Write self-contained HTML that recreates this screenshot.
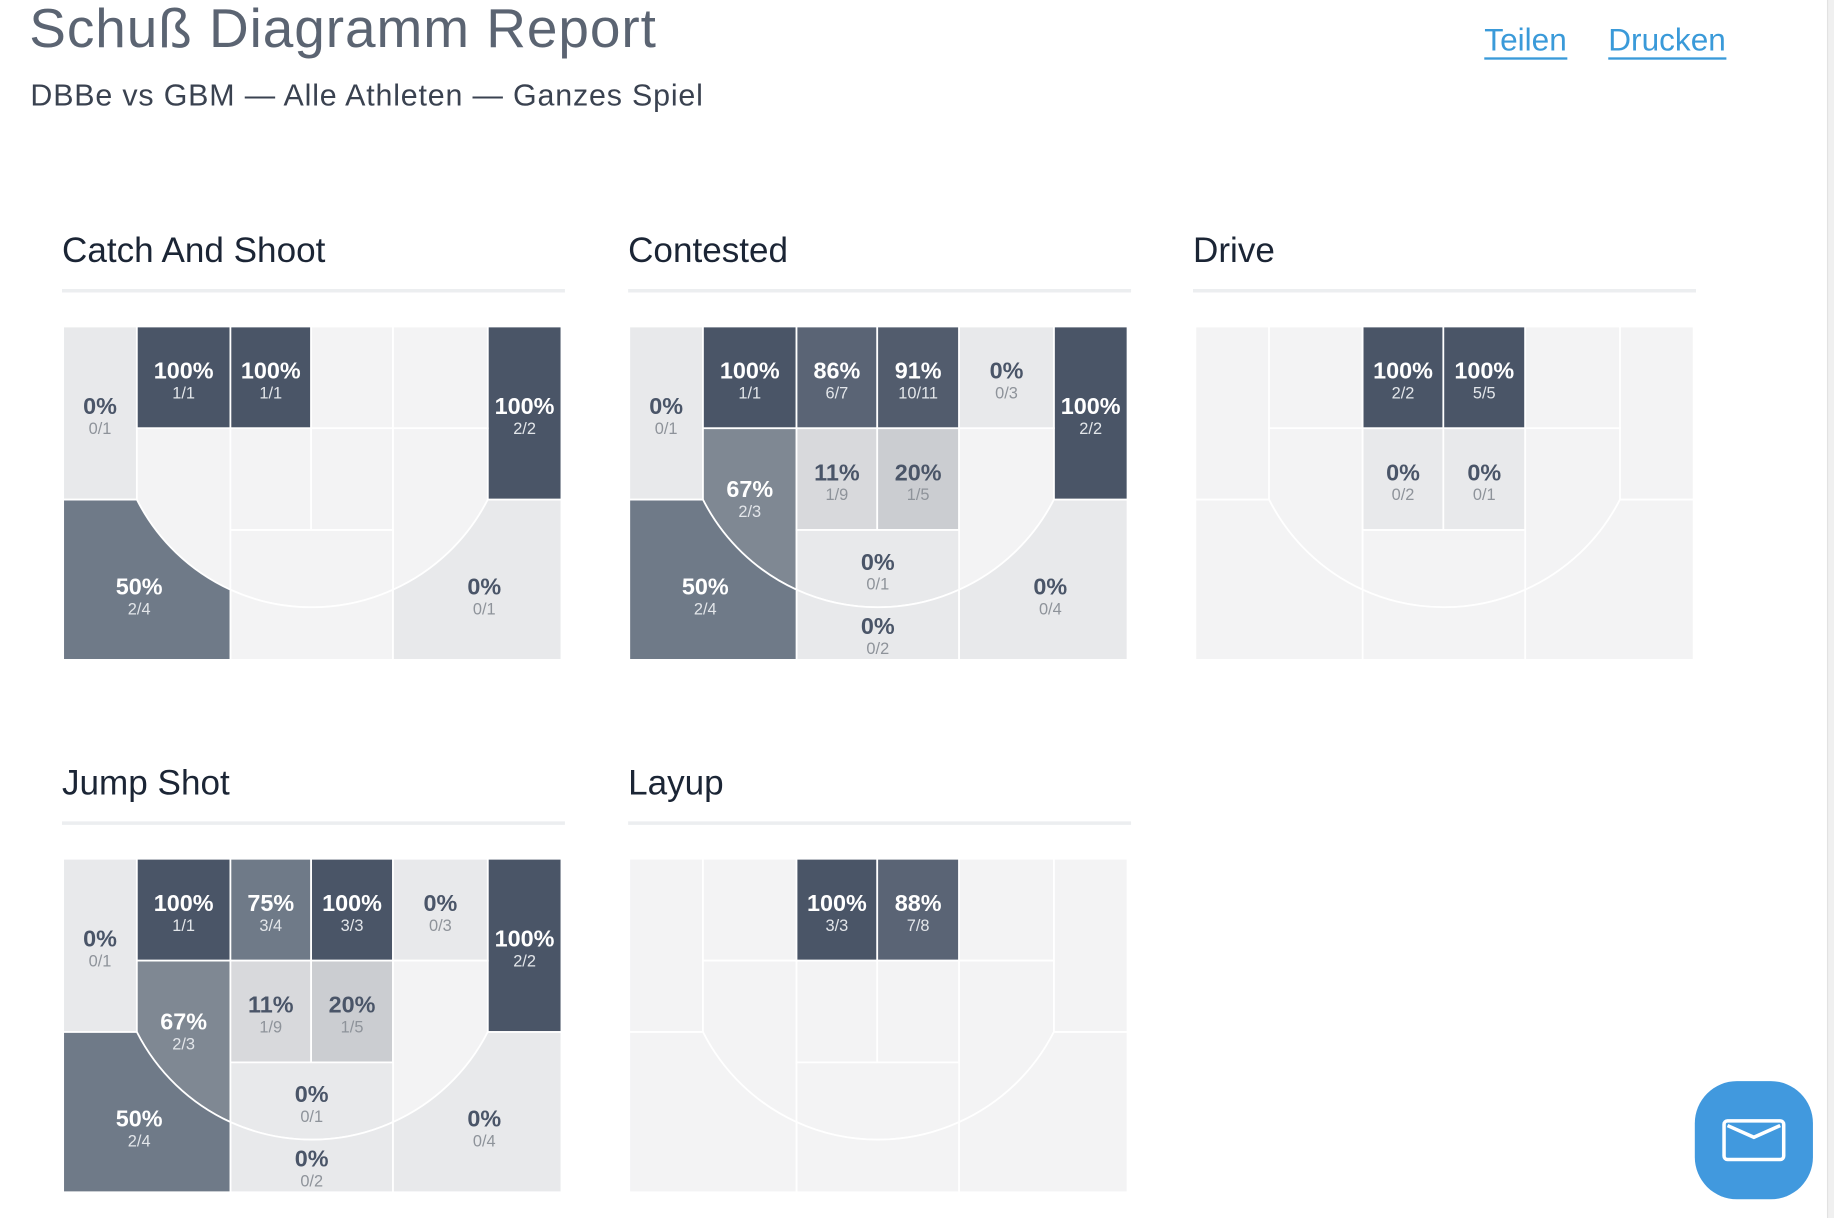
<!DOCTYPE html>
<html><head><meta charset="utf-8">
<style>
html,body{margin:0;padding:0;background:#fff;overflow:hidden;width:1834px;height:1218px}
#w{position:absolute;left:0;top:0;width:1568px;height:1041px;transform:scale(1.16964,1.17003);transform-origin:0 0;font-family:"Liberation Sans",Arial,sans-serif}
.h1{position:absolute;left:25px;top:-4px;font-size:47px;color:#5b6472;font-weight:300;letter-spacing:0.8px}
.sub{position:absolute;left:26px;top:66px;font-size:26px;color:#3a4250;letter-spacing:0.7px}
.lk{position:absolute;top:19px;font-size:27px;color:#3a9ad9;border-bottom:2px solid #3a9ad9;line-height:30px}
.t{position:absolute;font-size:30px;color:#1b2535}
.ul{position:absolute;height:3px;width:430px;background:#eceef0}
svg.c{position:absolute;overflow:visible}
.e{fill:#f3f3f4}.l{fill:#e8e9eb}.d{fill:#4a5567}.m{fill:#6f7a88}.m2{fill:#7f8893}.d2{fill:#5a6475}.d3{fill:#525c6d}.g1{fill:#d8d9dc}.g2{fill:#cbcdd1}
use{stroke:#fff;stroke-width:1.5}
text{font-family:"Liberation Sans",Arial,sans-serif;text-anchor:middle}
.p{font-size:20px;font-weight:bold;fill:#4a5568}.f{font-size:14px;fill:#8e939a}
.pw{font-size:20px;font-weight:bold;fill:#fff}.fw{font-size:14px;fill:#e3e6ea}
.mail{position:absolute;left:1449px;top:924px;width:101px;height:101px;border-radius:36px;background:#4199de}
.sb{position:absolute;left:1562px;top:0;width:6px;height:1041px;background:#f0f0f0;border-left:1px solid #e2e2e2}
</style></head><body><div id="w">
<svg width="0" height="0" style="position:absolute"><defs>
<path id="zA" d="M0 0H63V148H0Z"/>
<path id="zB" d="M363 0H426V148H363Z"/>
<path id="zT1" d="M63 0H143V87H63Z"/>
<path id="zT2" d="M143 0H212V87H143Z"/>
<path id="zT3" d="M212 0H282V87H212Z"/>
<path id="zT4" d="M282 0H363V87H282Z"/>
<path id="zM1" d="M63 87H143V225A168.3 168.3 0 0 1 63 148Z"/>
<path id="zM4" d="M282 87H363V148A168.3 168.3 0 0 1 282 225Z"/>
<path id="zM2" d="M143 87H212V174H143Z"/>
<path id="zM3" d="M212 87H282V174H212Z"/>
<path id="zC1" d="M143 174H282V225A168.3 168.3 0 0 1 143 225Z"/>
<path id="zC2" d="M143 285V225A168.3 168.3 0 0 0 282 225V285Z"/>
<path id="zL" d="M0 148H63A168.3 168.3 0 0 0 143 225V285H0Z"/>
<path id="zR" d="M426 148H363A168.3 168.3 0 0 1 282 225V285H426Z"/>
</defs></svg>

<div class="h1">Schuß Diagramm Report</div>
<div class="sub">DBBe vs GBM — Alle Athleten — Ganzes Spiel</div>
<div class="lk" style="left:1269px">Teilen</div>
<div class="lk" style="left:1375px">Drucken</div>

<div class="t" style="left:53px;top:198px">Catch And Shoot</div><div class="ul" style="left:53px;top:247px"></div>
<div class="t" style="left:537px;top:198px">Contested</div><div class="ul" style="left:537px;top:247px"></div>
<div class="t" style="left:1020px;top:198px">Drive</div><div class="ul" style="left:1020px;top:247px"></div>
<div class="t" style="left:53px;top:653px">Jump Shot</div><div class="ul" style="left:53px;top:702px"></div>
<div class="t" style="left:537px;top:653px">Layup</div><div class="ul" style="left:537px;top:702px"></div>

<!-- Catch And Shoot -->
<svg class="c" style="left:54px;top:279px" width="426" height="285">
<use href="#zA" class="l"/><use href="#zB" class="d"/><use href="#zT1" class="d"/><use href="#zT2" class="d"/><use href="#zT3" class="e"/><use href="#zT4" class="e"/>
<use href="#zM1" class="e"/><use href="#zM2" class="e"/><use href="#zM3" class="e"/><use href="#zM4" class="e"/><use href="#zC1" class="e"/><use href="#zC2" class="e"/><use href="#zL" class="m"/><use href="#zR" class="l"/>
<text x="31.5" y="75" class="p">0%</text><text x="31.5" y="92" class="f">0/1</text>
<text x="103" y="44.5" class="pw">100%</text><text x="103" y="61.5" class="fw">1/1</text>
<text x="177.5" y="44.5" class="pw">100%</text><text x="177.5" y="61.5" class="fw">1/1</text>
<text x="394.5" y="75" class="pw">100%</text><text x="394.5" y="92" class="fw">2/2</text>
<text x="65" y="229" class="pw">50%</text><text x="65" y="246" class="fw">2/4</text>
<text x="360" y="229" class="p">0%</text><text x="360" y="246" class="f">0/1</text>
</svg>

<!-- Contested -->
<svg class="c" style="left:538px;top:279px" width="426" height="285">
<use href="#zA" class="l"/><use href="#zB" class="d"/><use href="#zT1" class="d"/><use href="#zT2" class="d2"/><use href="#zT3" class="d3"/><use href="#zT4" class="l"/>
<use href="#zM1" class="m2"/><use href="#zM2" class="g1"/><use href="#zM3" class="g2"/><use href="#zM4" class="e"/><use href="#zC1" class="l"/><use href="#zC2" class="l"/><use href="#zL" class="m"/><use href="#zR" class="l"/>
<text x="31.5" y="75" class="p">0%</text><text x="31.5" y="92" class="f">0/1</text>
<text x="103" y="44.5" class="pw">100%</text><text x="103" y="61.5" class="fw">1/1</text>
<text x="177.5" y="44.5" class="pw">86%</text><text x="177.5" y="61.5" class="fw">6/7</text>
<text x="247" y="44.5" class="pw">91%</text><text x="247" y="61.5" class="fw">10/11</text>
<text x="322.5" y="44.5" class="p">0%</text><text x="322.5" y="61.5" class="f">0/3</text>
<text x="394.5" y="75" class="pw">100%</text><text x="394.5" y="92" class="fw">2/2</text>
<text x="103" y="146" class="pw">67%</text><text x="103" y="163" class="fw">2/3</text>
<text x="177.5" y="131.5" class="p">11%</text><text x="177.5" y="148.5" class="f">1/9</text>
<text x="247" y="131.5" class="p">20%</text><text x="247" y="148.5" class="f">1/5</text>
<text x="212.5" y="208" class="p">0%</text><text x="212.5" y="225" class="f">0/1</text>
<text x="212.5" y="263" class="p">0%</text><text x="212.5" y="280" class="f">0/2</text>
<text x="65" y="229" class="pw">50%</text><text x="65" y="246" class="fw">2/4</text>
<text x="360" y="229" class="p">0%</text><text x="360" y="246" class="f">0/4</text>
</svg>

<!-- Drive -->
<svg class="c" style="left:1022px;top:279px" width="426" height="285">
<use href="#zA" class="e"/><use href="#zB" class="e"/><use href="#zT1" class="e"/><use href="#zT2" class="d"/><use href="#zT3" class="d"/><use href="#zT4" class="e"/>
<use href="#zM1" class="e"/><use href="#zM2" class="l"/><use href="#zM3" class="l"/><use href="#zM4" class="e"/><use href="#zC1" class="e"/><use href="#zC2" class="e"/><use href="#zL" class="e"/><use href="#zR" class="e"/>
<text x="177.5" y="44.5" class="pw">100%</text><text x="177.5" y="61.5" class="fw">2/2</text>
<text x="247" y="44.5" class="pw">100%</text><text x="247" y="61.5" class="fw">5/5</text>
<text x="177.5" y="131.5" class="p">0%</text><text x="177.5" y="148.5" class="f">0/2</text>
<text x="247" y="131.5" class="p">0%</text><text x="247" y="148.5" class="f">0/1</text>
</svg>

<!-- Jump Shot -->
<svg class="c" style="left:54px;top:734px" width="426" height="285">
<use href="#zA" class="l"/><use href="#zB" class="d"/><use href="#zT1" class="d"/><use href="#zT2" class="m"/><use href="#zT3" class="d"/><use href="#zT4" class="l"/>
<use href="#zM1" class="m2"/><use href="#zM2" class="g1"/><use href="#zM3" class="g2"/><use href="#zM4" class="e"/><use href="#zC1" class="l"/><use href="#zC2" class="l"/><use href="#zL" class="m"/><use href="#zR" class="l"/>
<text x="31.5" y="75" class="p">0%</text><text x="31.5" y="92" class="f">0/1</text>
<text x="103" y="44.5" class="pw">100%</text><text x="103" y="61.5" class="fw">1/1</text>
<text x="177.5" y="44.5" class="pw">75%</text><text x="177.5" y="61.5" class="fw">3/4</text>
<text x="247" y="44.5" class="pw">100%</text><text x="247" y="61.5" class="fw">3/3</text>
<text x="322.5" y="44.5" class="p">0%</text><text x="322.5" y="61.5" class="f">0/3</text>
<text x="394.5" y="75" class="pw">100%</text><text x="394.5" y="92" class="fw">2/2</text>
<text x="103" y="146" class="pw">67%</text><text x="103" y="163" class="fw">2/3</text>
<text x="177.5" y="131.5" class="p">11%</text><text x="177.5" y="148.5" class="f">1/9</text>
<text x="247" y="131.5" class="p">20%</text><text x="247" y="148.5" class="f">1/5</text>
<text x="212.5" y="208" class="p">0%</text><text x="212.5" y="225" class="f">0/1</text>
<text x="212.5" y="263" class="p">0%</text><text x="212.5" y="280" class="f">0/2</text>
<text x="65" y="229" class="pw">50%</text><text x="65" y="246" class="fw">2/4</text>
<text x="360" y="229" class="p">0%</text><text x="360" y="246" class="f">0/4</text>
</svg>

<!-- Layup -->
<svg class="c" style="left:538px;top:734px" width="426" height="285">
<use href="#zA" class="e"/><use href="#zB" class="e"/><use href="#zT1" class="e"/><use href="#zT2" class="d"/><use href="#zT3" class="d2"/><use href="#zT4" class="e"/>
<use href="#zM1" class="e"/><use href="#zM2" class="e"/><use href="#zM3" class="e"/><use href="#zM4" class="e"/><use href="#zC1" class="e"/><use href="#zC2" class="e"/><use href="#zL" class="e"/><use href="#zR" class="e"/>
<text x="177.5" y="44.5" class="pw">100%</text><text x="177.5" y="61.5" class="fw">3/3</text>
<text x="247" y="44.5" class="pw">88%</text><text x="247" y="61.5" class="fw">7/8</text>
</svg>

<div class="mail"><svg width="101" height="101" style="position:absolute;left:0;top:0"><rect x="25" y="34" width="51" height="33" rx="3" fill="none" stroke="#fff" stroke-width="3"/><path d="M28 38L50.5 48L73 38" fill="none" stroke="#fff" stroke-width="3"/></svg></div>
<div class="sb"></div>
</div></body></html>
